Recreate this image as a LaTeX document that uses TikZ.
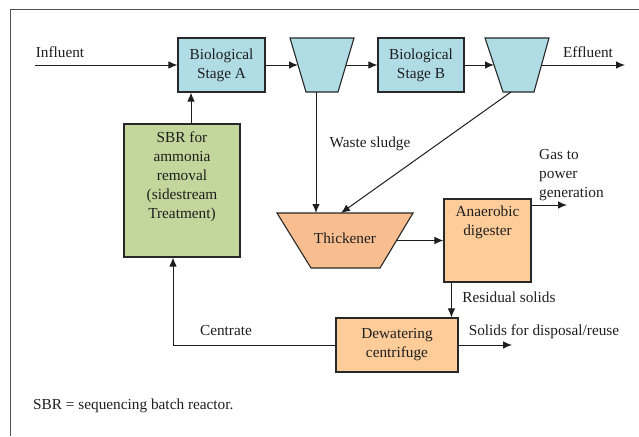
\documentclass[tikz,border=0pt]{standalone}
\usepackage{fontspec}
\setmainfont{Liberation Serif}
\usetikzlibrary{arrows.meta,calc}
\definecolor{bluefill}{RGB}{176,220,230}
\definecolor{greenfill}{RGB}{195,214,155}
\definecolor{thickfill}{RGB}{249,190,143}
\definecolor{orfill}{RGB}{253,204,153}
\definecolor{ink}{RGB}{30,30,30}
\definecolor{edge}{RGB}{40,40,40}
\tikzset{
  box/.style={draw=edge, line width=1.1pt, rectangle, inner sep=0pt, align=center, text=ink},
  shapeline/.style={draw=edge, line width=1.1pt, line join=miter},
  txt/.style={text=ink, inner sep=0pt, align=center},
  arr/.style={draw=ink, line width=1pt, -{Latex[length=9pt,width=7.5pt]}},
}
\begin{document}
\begin{tikzpicture}[x=1pt,y=-1pt,font=\fontsize{15.3}{19}\selectfont]
\useasboundingbox (0,0) rectangle (639,436);
\draw[draw=edge!80, line width=1pt] (10,436) -- (10,10) -- (639,10);

% main line
\node[box, fill=bluefill, minimum width=87pt, minimum height=54pt] (stageA) at (221.5,65) {Biological\\Stage A};
\node[box, fill=bluefill, minimum width=86pt, minimum height=54pt] (stageB) at (421,65) {Biological\\Stage B};

% clarifier 1
\path[shapeline, fill=bluefill] (290,38) -- (354,38) -- (338,92) -- (306,92) -- cycle;
\coordinate (c1w) at (298,65);
\coordinate (c1e) at (346,65);
\coordinate (c1s) at (316,92);
% clarifier 2
\path[shapeline, fill=bluefill] (485,38) -- (549,38) -- (534,92) -- (503,92) -- cycle;
\coordinate (c2w) at (494,65);
\coordinate (c2e) at (541.5,65);
\coordinate (c2s) at (511,92);

\coordinate (inf) at (35,65);
\coordinate (eff) at (625,65);
\node[txt] (inflbl) at (60,52) {Influent};
\node[txt] (efflbl) at (588,52) {Effluent};

\draw[arr] (inf) -- (stageA.west);
\draw[arr] (stageA.east) -- (c1w);
\draw[arr] (c1e) -- (stageB.west);
\draw[arr] (stageB.east) -- (c2w);
\draw[arr] (c2e) -- (eff);

% SBR
\node[box, fill=greenfill, minimum width=116pt, minimum height=133pt] (sbr) at (182,190.5) {};
\node[txt, anchor=north] (sbrtxt) at ([yshift=-8pt]sbr.north) {SBR for\\ammonia\\removal\\(sidestream\\Treatment)};
\draw[arr] ([xshift=9pt]sbr.north) -- ([xshift=9pt]sbr.north |- stageA.south);

% thickener
\path[shapeline, fill=thickfill] (277,213) -- (413,213) -- (380,268) -- (311,268) -- cycle;
\node[txt] (thick) at (345,238) {Thickener};
\coordinate (t1) at (316,213);
\coordinate (t2) at (341,213);
\coordinate (te) at (396.5,240.5);
\node[txt] (waste) at (370,144) {Waste sludge};
\draw[arr] (c1s) -- (t1);
\draw[arr] (c2s) -- (t2);

% digester
\node[box, fill=orfill, minimum width=87pt, minimum height=83pt] (dig) at (487.5,240.5) {};
\node[txt, anchor=north] (digtxt) at ([yshift=-7pt]dig.north) {Anaerobic\\digester};
\draw[arr] (te) -- (te -| dig.west);
\coordinate (gas) at (567,205);
\draw[arr] (dig.north east |- gas) -- (gas);
\node[txt, align=left, anchor=west] (gaslbl) at (539,175) {Gas to\\power\\generation};

% dewatering
\node[box, fill=orfill, minimum width=122pt, minimum height=54pt] (dew) at (397,345) {Dewatering\\centrifuge};
\draw[arr] ([xshift=8pt]dig.south west) -- ([xshift=8pt]dig.south west |- dew.north);
\node[txt] (resid) at (509,297) {Residual solids};
\coordinate (solids) at (512,345);
\draw[arr] (dew.east) -- (solids);
\node[txt] (sollbl) at (544,332) {Solids for disposal/reuse};

\draw[arr] (dew.west) -| ([xshift=-9pt]sbr.south);
\node[txt] (centr) at (226,331) {Centrate};

\node[txt, anchor=west] (foot) at (33,406) {SBR = sequencing batch reactor.};
\end{tikzpicture}
\end{document}
